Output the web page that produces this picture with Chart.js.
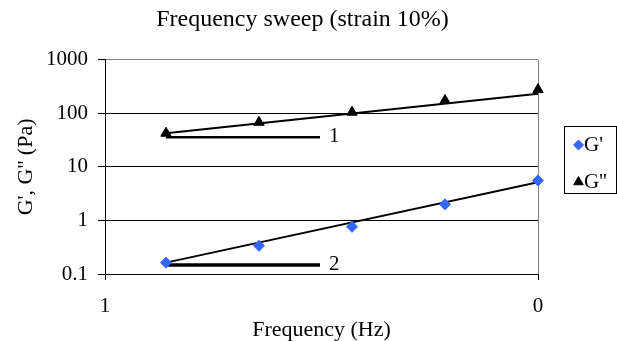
<!DOCTYPE html>
<html lang="en">
<head>
    <meta charset="UTF-8">
    <title>Frequency sweep (strain 10%)</title>
    <script src="https://cdn.jsdelivr.net/npm/chart.js"></script>
    <style>
        body {
            margin: 0;
            background-color: #ffffff;
        }
        #wrap {
            width: 617px;
            height: 341px;
        }
    </style>
</head>
<body>
    <div id="wrap">
        <canvas id="grafico" width="617" height="341"></canvas>
    </div>

    <script>
        // Datos
        const freqIdx = [1, 2, 3, 4, 5];
        const gPrime = [0.163, 0.337, 0.76, 2.0, 5.6];
        const gDouble = [42.5, 68, 105, 174, 278];

        // Lineas de tendencia (extremos)
        const trendX = [1, 5];
        const gPrimeTrend = [0.163, 5.2];
        const gDoubleTrend = [42.5, 232];

        // Triangulos de pendiente
        const slopeX = [1, 2.656];
        const slope1Y = [35.8, 35.8];
        const slope2Y = [0.147, 0.147];
        const slopeLabels = ['1', '2'];

        // Ejes
        const xMin = 0.344;
        const xMax = 5;
        const xTickLabels = ['1', '0'];
        const yTicks = [0.1, 1, 10, 100, 1000];

        const serif = '"Liberation Serif", "Times New Roman", serif';
        const azul = '#3366ff';

        function puntos(xs, ys) {
            return xs.map((x, i) => ({ x: x, y: ys[i] }));
        }

        // Etiquetas "1" y "2" al final de las lineas de pendiente
        const etiquetasPendiente = {
            id: 'etiquetasPendiente',
            afterDatasetsDraw(chart) {
                const ctx = chart.ctx;
                const xs = chart.scales.x;
                const ys = chart.scales.y;
                const ys2 = [slope1Y[1], slope2Y[1]];
                ctx.save();
                ctx.font = '21px ' + serif;
                ctx.fillStyle = '#000';
                ctx.textAlign = 'left';
                ctx.textBaseline = 'middle';
                slopeLabels.forEach((t, i) => {
                    ctx.fillText(t, xs.getPixelForValue(slopeX[1]) + 9, ys.getPixelForValue(ys2[i]) - 1);
                });
                ctx.restore();
            }
        };

        // Leyenda con recuadro, a la derecha
        const leyenda = {
            id: 'leyenda',
            afterDraw(chart) {
                const ctx = chart.ctx;
                ctx.save();
                ctx.strokeStyle = '#000';
                ctx.lineWidth = 1;
                ctx.strokeRect(564.5, 126.5, 52, 67);
                const items = [
                    { texto: "G'", estilo: 'rectRot', color: azul, radio: 5, y: 145 },
                    { texto: "G''", estilo: 'triangle', color: '#000', radio: 5.5, y: 182 }
                ];
                ctx.font = '21px ' + serif;
                ctx.textBaseline = 'middle';
                items.forEach(it => {
                    ctx.fillStyle = it.color;
                    ctx.strokeStyle = it.color;
                    Chart.helpers.drawPoint(ctx, { pointStyle: it.estilo, radius: it.radio, borderWidth: 1, rotation: 0 }, 578.5, it.y);
                    ctx.fillStyle = '#000';
                    ctx.fillText(it.texto, 584, it.y);
                });
                ctx.restore();
            }
        };

        const ctx = document.getElementById('grafico').getContext('2d');
        new Chart(ctx, {
            type: 'scatter',
            data: {
                datasets: [
                    {
                        label: "G'",
                        data: puntos(freqIdx, gPrime),
                        pointStyle: 'rectRot',
                        pointRadius: 5.5,
                        backgroundColor: azul,
                        borderColor: azul,
                        borderWidth: 1,
                        clip: false
                    },
                    {
                        label: "G''",
                        data: puntos(freqIdx, gDouble),
                        pointStyle: 'triangle',
                        pointRadius: 6,
                        backgroundColor: '#000',
                        borderColor: '#000',
                        borderWidth: 1,
                        clip: false
                    },
                    {
                        label: 'trend G"',
                        data: puntos(trendX, gDoubleTrend),
                        showLine: true,
                        pointRadius: 0,
                        borderColor: '#000',
                        borderWidth: 2
                    },
                    {
                        label: "trend G'",
                        data: puntos(trendX, gPrimeTrend),
                        showLine: true,
                        pointRadius: 0,
                        borderColor: '#000',
                        borderWidth: 2
                    },
                    {
                        label: 'pendiente 1',
                        data: puntos(slopeX, slope1Y),
                        showLine: true,
                        pointRadius: 0,
                        borderColor: '#000',
                        borderWidth: 2.5
                    },
                    {
                        label: 'pendiente 2',
                        data: puntos(slopeX, slope2Y),
                        showLine: true,
                        pointRadius: 0,
                        borderColor: '#000',
                        borderWidth: 3.5
                    }
                ]
            },
            options: {
                responsive: false,
                animation: false,
                layout: {
                    padding: { left: 0, right: 12, top: 0, bottom: 0 }
                },
                plugins: {
                    legend: { display: false },
                    tooltip: { enabled: false },
                    title: {
                        display: true,
                        text: 'Frequency sweep (strain 10%)',
                        color: '#000',
                        font: { family: serif, size: 24, weight: 'normal' },
                        padding: { top: 5, bottom: 26 }
                    }
                },
                scales: {
                    x: {
                        type: 'linear',
                        min: xMin,
                        max: xMax,
                        afterBuildTicks: (s) => { s.ticks = [{ value: xMin }, { value: xMax }]; },
                        afterFit: (s) => { s.height = 67; },
                        ticks: {
                            color: '#000',
                            font: { family: serif, size: 21 },
                            padding: 14,
                            maxRotation: 0,
                            callback: (v, i) => xTickLabels[i]
                        },
                        grid: {
                            color: (c) => (c.tick && c.tick.value === xMax) ? '#808080' : 'rgba(0,0,0,0)',
                            tickColor: '#000',
                            tickLength: 6,
                            lineWidth: 1
                        },
                        border: { color: '#000', width: 1 },
                        title: {
                            display: true,
                            text: 'Frequency (Hz)',
                            color: '#000',
                            font: { family: serif, size: 22 },
                            padding: { top: 0, bottom: -2 }
                        }
                    },
                    y: {
                        type: 'logarithmic',
                        min: 0.1,
                        max: 1000,
                        afterBuildTicks: (s) => { s.ticks = yTicks.map(v => ({ value: v })); },
                        afterFit: (s) => { s.width = 105; },
                        ticks: {
                            color: '#000',
                            font: { family: serif, size: 21 },
                            padding: 10,
                            callback: (v) => String(v)
                        },
                        grid: {
                            color: (c) => (c.tick && c.tick.value === 1000) ? '#808080' : '#000',
                            tickColor: '#000',
                            tickLength: 7,
                            lineWidth: 1
                        },
                        border: { color: '#000', width: 1 },
                        title: {
                            display: true,
                            text: "G', G'' (Pa)",
                            color: '#000',
                            font: { family: serif, size: 22 },
                            padding: { top: 13, bottom: 0 }
                        }
                    },
                    y2: {
                        type: 'linear',
                        position: 'right',
                        display: true,
                        afterFit: (s) => { s.width = 67; },
                        ticks: { display: false },
                        grid: { display: false },
                        border: { display: false }
                    }
                }
            },
            plugins: [etiquetasPendiente, leyenda]
        });
    </script>
</body>
</html>
